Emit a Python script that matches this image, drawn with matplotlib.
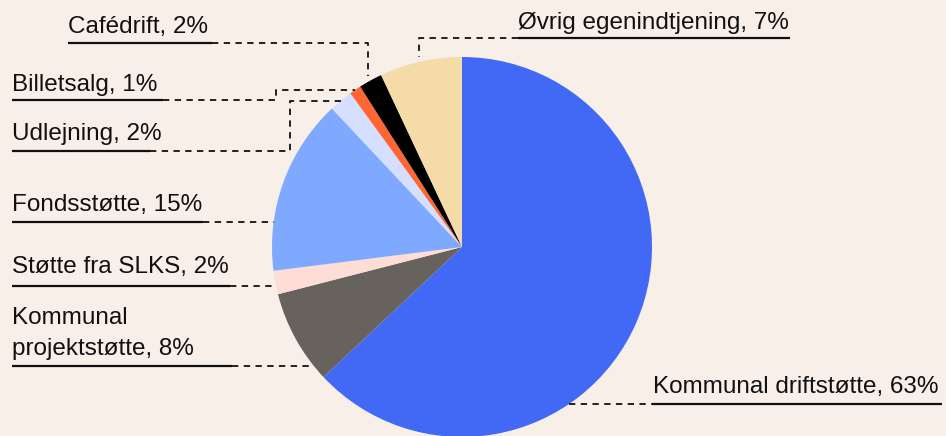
import numpy as np
import matplotlib.pyplot as plt

labels = ["Kommunal driftstøtte", "Kommunal projektstøtte", "Støtte fra SLKS",
          "Fondsstøtte", "Udlejning", "Billetsalg", "Cafédrift", "Øvrig egenindtjening"]
values = [63, 8, 2, 15, 2, 1, 2, 7]
colors = ["#4169F6", "#67625D", "#FDDDD6", "#7FA9FF", "#D5DFFF", "#FF6633", "#000000", "#F4DBA7"]
bg = "#F8EFE9"

W, H = 946, 436
fig = plt.figure(figsize=(W / 100, H / 100), dpi=100)
fig.patch.set_facecolor(bg)
ax = fig.add_axes([0, 0, 1, 1])
ax.set_facecolor(bg)

cx, cy, R = 462, H - 247, 190
wedges, _ = ax.pie(values, colors=colors, startangle=90, counterclock=False,
                   center=(cx, cy), radius=R, wedgeprops=dict(linewidth=0))
ax.set_xlim(0, W)
ax.set_ylim(0, H)
ax.set_aspect('equal')
ax.axis('off')

FONT = dict(family=["Liberation Sans", "DejaVu Sans"], fontsize=17.5, color="#111111")
DASH = dict(color="#111111", lw=1.3, linestyle=(0, (3.5, 3)), solid_capstyle="butt")
SOLID = dict(color="#111111", lw=1.6, solid_capstyle="butt")

# layout in pixel coords from top: text x, baselines, underline y, underline x-range, leader kind, elbow x
layout = {
    0: dict(tx=653, base=[393], uy=404, ux=(652, 942), kind="hright"),
    1: dict(tx=12, base=[324, 355], uy=366, ux=(12, 232), kind="hleft", split=True),
    2: dict(tx=12, base=[273], uy=286, ux=(12, 230), kind="hleft"),
    3: dict(tx=12, base=[211], uy=222, ux=(12, 203), kind="hleft"),
    4: dict(tx=12, base=[140], uy=151, ux=(12, 150), kind="elbow", ex=290),
    5: dict(tx=12, base=[91], uy=100, ux=(12, 163), kind="elbow", ex=276),
    6: dict(tx=68, base=[33], uy=43, ux=(68, 212), kind="down"),
    7: dict(tx=518, base=[29], uy=38, ux=(518, 790), kind="downleft"),
}

def Y(y):
    return H - y

for i, (lab, val, w) in enumerate(zip(labels, values, wedges)):
    L = layout[i]
    text = f"{lab}, {val}%"
    if L.get("split"):
        parts = lab.split(" ", 1)
        lines = [parts[0], f"{parts[1]}, {val}%"]
    else:
        lines = [text]
    for line, b in zip(lines, L["base"]):
        ax.text(L["tx"], Y(b), line, ha="left", va="baseline", **FONT)
    uy = L["uy"]
    x0, x1 = L["ux"]
    ax.plot([x0, x1], [Y(uy), Y(uy)], **SOLID)
    mid = np.deg2rad((w.theta1 + w.theta2) / 2)
    dy = (H - uy) - cy
    kind = L["kind"]
    if kind == "hleft":
        xe = cx - np.sqrt(R ** 2 - dy ** 2)
        ax.plot([x1, xe], [Y(uy), Y(uy)], **DASH)
    elif kind == "hright":
        xe = cx + np.sqrt(R ** 2 - dy ** 2)
        ax.plot([xe, x0], [Y(uy), Y(uy)], **DASH)
    elif kind == "elbow":
        px, py = cx + R * np.cos(mid), cy + R * np.sin(mid)
        ex = L["ex"]
        ax.plot([x1, ex, ex, px], [Y(uy), Y(uy), py, py], **DASH)
    elif kind == "down":
        px, py = cx + (R + 5) * np.cos(mid), cy + (R + 5) * np.sin(mid)
        ax.plot([x1, px, px], [Y(uy), Y(uy), py], **DASH)
    elif kind == "downleft":
        px, py = cx + (R + 5) * np.cos(mid), cy + (R + 5) * np.sin(mid)
        ax.plot([x0, px, px], [Y(uy), Y(uy), py], **DASH)

fig.savefig("out.png", dpi=100, facecolor=bg)
